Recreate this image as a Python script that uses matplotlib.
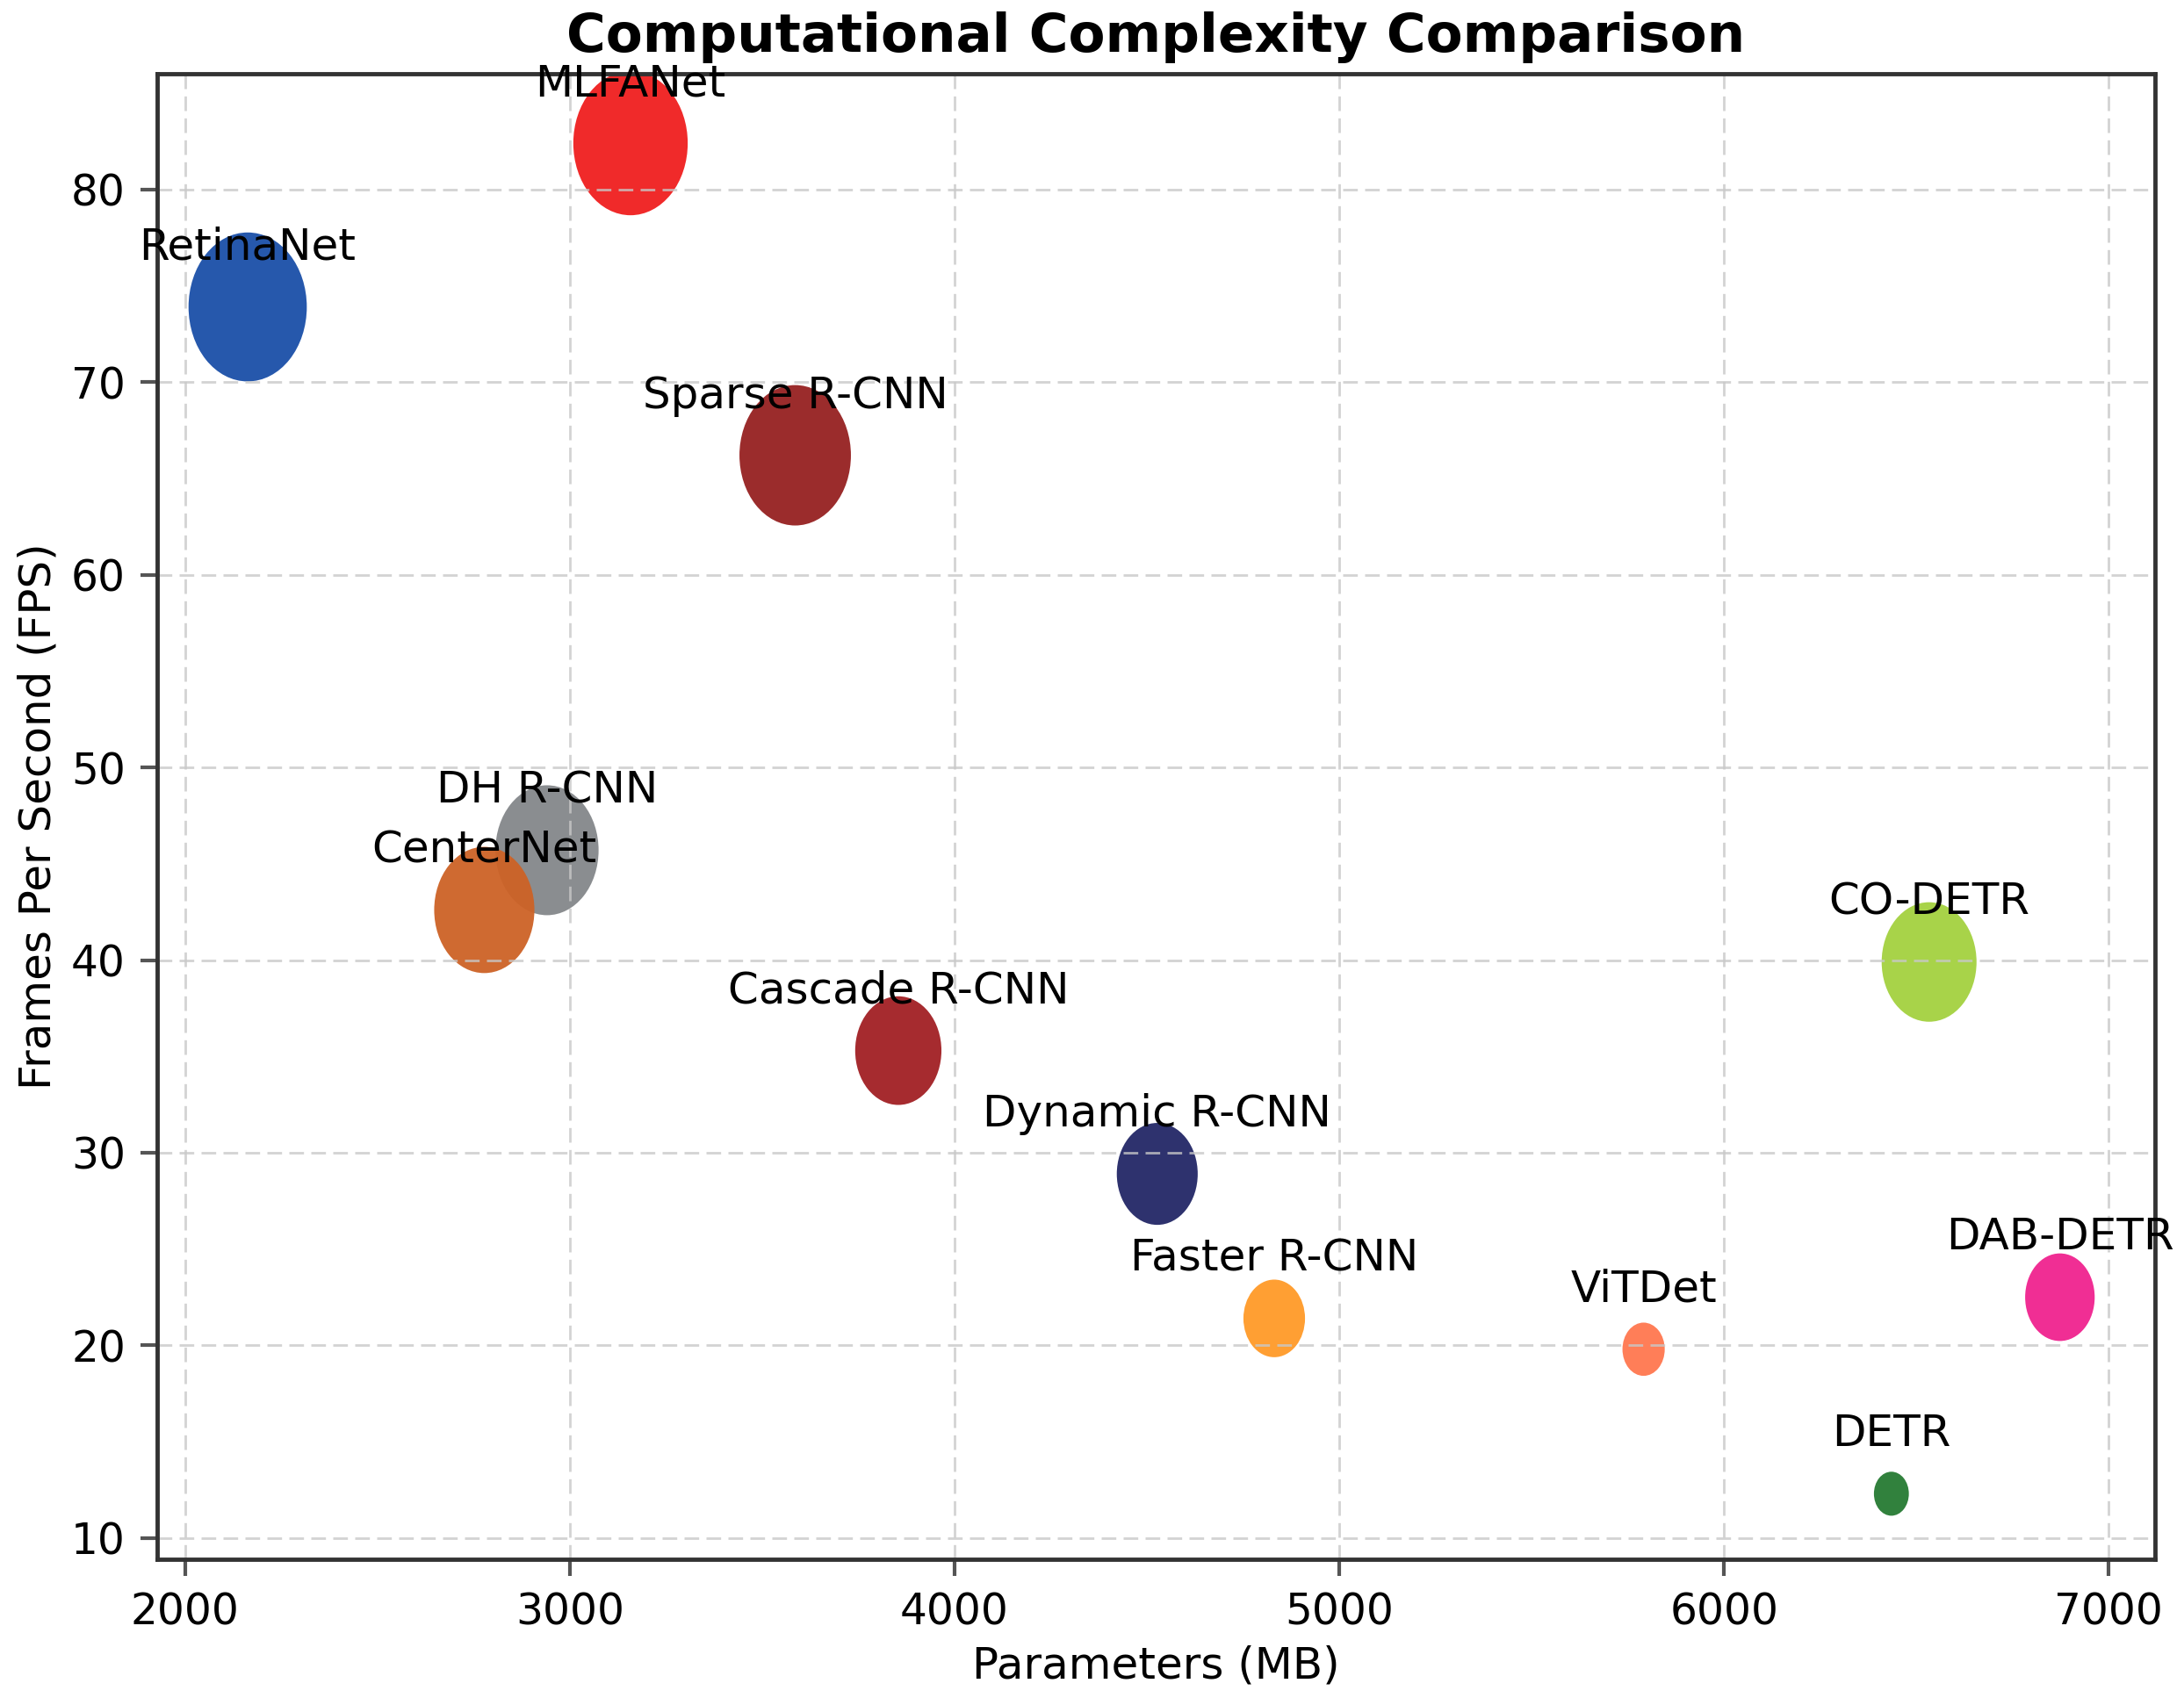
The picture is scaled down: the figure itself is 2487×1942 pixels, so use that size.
import matplotlib
matplotlib.use("Agg")
import matplotlib.pyplot as plt
from matplotlib.markers import MarkerStyle
from matplotlib.transforms import Affine2D

models = ["MLFANet", "RetinaNet", "Sparse R-CNN", "DH R-CNN", "CenterNet",
          "Cascade R-CNN", "Dynamic R-CNN", "Faster R-CNN", "ViTDet",
          "CO-DETR", "DAB-DETR", "DETR"]
params_mb = [3158, 2163, 3586, 2941, 2778, 3854, 4527, 4831, 5791, 6533, 6873, 6435]
fps = [82.4, 73.9, 66.2, 45.7, 42.6, 35.3, 28.9, 21.4, 19.8, 39.9, 22.5, 12.3]
bubble_sizes = [8800, 9400, 8350, 7150, 6750, 5000, 4400, 2550, 1200, 6050, 3250, 820]
colors = ["#F01E1E", "#1A4FA8", "#962020", "#84878A", "#CD6226", "#A11F24",
          "#222766", "#FF9A28", "#FF774F", "#A3D13F", "#F0228E", "#267A32"]

fig = plt.figure(figsize=(24.87, 19.42), dpi=100)
ax = fig.add_axes([0.072, 0.0855, 0.9147, 0.8712])

marker = MarkerStyle("o", transform=Affine2D().scale(1.0, 1.26))
ax.scatter(params_mb, fps, s=bubble_sizes, c=colors, alpha=0.95,
           marker=marker, linewidths=0)

for name, x, y in zip(models, params_mb, fps):
    ax.annotate(name, (x, y), xytext=(0, 49), textcoords="offset points",
                ha="center", va="center", fontsize=36, color="black")

ax.set_xlim(1928, 7120)
ax.set_ylim(8.9, 86.0)
ax.set_xticks([2000, 3000, 4000, 5000, 6000, 7000])
ax.set_yticks([10, 20, 30, 40, 50, 60, 70, 80])
ax.tick_params(labelsize=35, length=14, width=3, color="#555555", pad=12)
ax.grid(True, linestyle="--", linewidth=2, color="#c8c8c8", alpha=0.8, dashes=(6, 3))
for sp in ax.spines.values():
    sp.set_linewidth(3.5)
    sp.set_color("#333333")

ax.set_xlabel("Parameters (MB)", fontsize=36, labelpad=10)
ax.set_ylabel("Frames Per Second (FPS)", fontsize=36, labelpad=10)
ax.set_title("Computational Complexity Comparison", fontsize=44,
             fontweight="bold", pad=18)

fig.savefig("out.png", dpi=100)
